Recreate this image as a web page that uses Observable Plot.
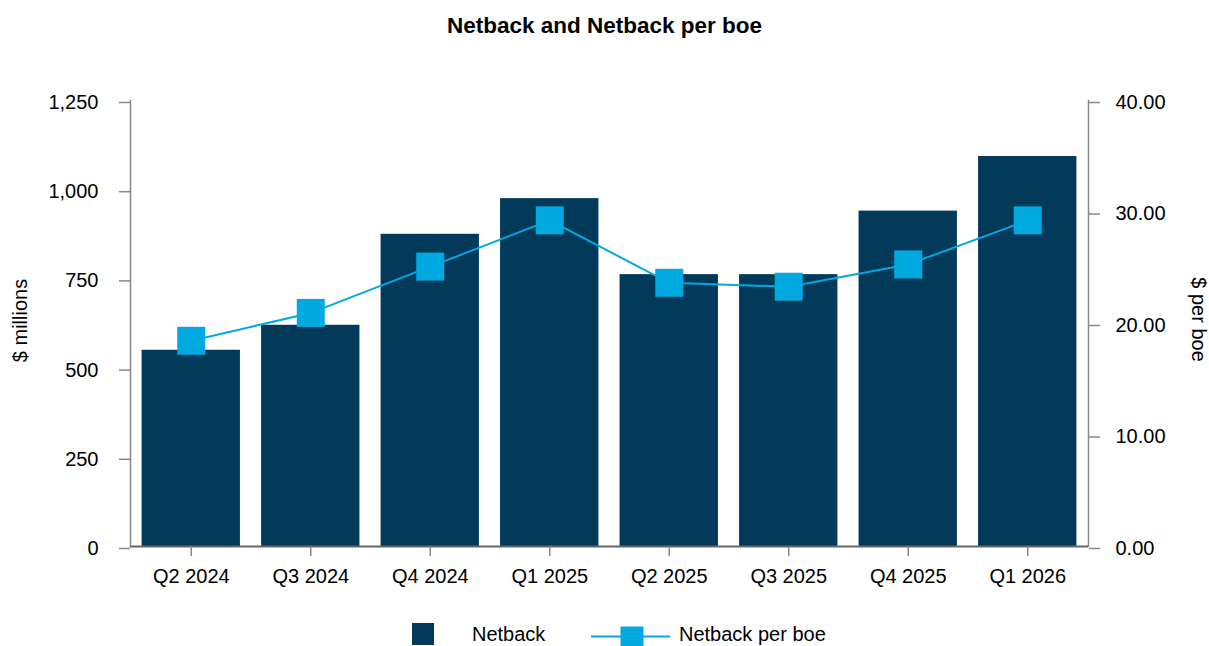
<!DOCTYPE html>
<html>
<head>
<meta charset="utf-8">
<script src="https://cdn.jsdelivr.net/npm/d3@7"></script>
<script src="https://cdn.jsdelivr.net/npm/@observablehq/plot@0.6"></script>
<style>
  html, body { margin: 0; padding: 0; background: #fff; }
  body { width: 1209px; height: 646px; overflow: hidden; font-family: "Liberation Sans", Arial, sans-serif; }
  #title { height: 52px; line-height: 52px; text-align: center; font-weight: bold; font-size: 22.5px; color: #000; }
  #chart svg { display: block; }
  #legend { position: relative; height: 29px; }
</style>
</head>
<body>
<div id="title">Netback and Netback per boe</div>
<div id="chart"></div>
<div id="legend"></div>
<script>
const quarters = ["Q2 2024", "Q3 2024", "Q4 2024", "Q1 2025", "Q2 2025", "Q3 2025", "Q4 2025", "Q1 2026"];
const netback = [550, 620, 875, 975, 762, 762, 940, 1093];
const netbackPerBoe = [18.45, 20.95, 25.1, 29.25, 23.65, 23.3, 25.3, 29.25];
const leftTicks = [0, 250, 500, 750, 1000, 1250];
const rightTicks = [0, 10, 20, 30, 40];
const leftMax = 1250, rightMax = 40;

const barColor = "#033a5a";
const lineColor = "#00a9e0";
const toLeft = v => v * leftMax / rightMax;

const data = quarters.map((q, i) => ({ q, netback: netback[i], boe: toLeft(netbackPerBoe[i]) }));

const chart = Plot.plot({
  width: 1209,
  height: 565,
  marginTop: 48,
  marginBottom: 71,
  marginLeft: 130,
  marginRight: 121,
  style: { fontFamily: "Liberation Sans, Arial, sans-serif", fontSize: "20px", color: "#000", background: "#fff" },
  x: { domain: quarters, paddingInner: 0.177, paddingOuter: 0.097, round: false, label: null },
  y: { domain: [0, leftMax], label: null },
  marks: [
    Plot.barY(data, { x: "q", y: "netback", fill: barColor }),
    Plot.line(data, { x: "q", y: "boe", stroke: lineColor, strokeWidth: 2 }),
    Plot.dot(data, { x: "q", y: "boe", symbol: "square", r: 15.8, fill: lineColor, stroke: "none" }),
    Plot.frame({ anchor: "left", stroke: "#888", strokeWidth: 1.5 }),
    Plot.frame({ anchor: "right", stroke: "#888", strokeWidth: 1.5 }),
    Plot.ruleY([0], { stroke: "#666", strokeWidth: 2 }),
    Plot.axisY({ anchor: "left", ticks: leftTicks, tickSize: 11, tickPadding: 21, tickFormat: d3.format(","), stroke: "#888", fill: "#000", strokeWidth: 1.5, dy: 2, label: null, fontSize: 20 }),
    Plot.axisY({ anchor: "right", ticks: rightTicks.map(toLeft), tickSize: 11, tickPadding: 16, tickFormat: d => (d * rightMax / leftMax).toFixed(2), stroke: "#888", fill: "#000", strokeWidth: 1.5, dy: 2, label: null, fontSize: 20 }),
    Plot.axisX({ anchor: "bottom", tickSize: 10, tickPadding: 12, stroke: "#888", fill: "#000", strokeWidth: 1.5, label: null, fontSize: 20 }),
    Plot.text(["$ millions"], { text: d => d, frameAnchor: "left", textAnchor: "middle", dx: -110, dy: -3, rotate: -90, fontSize: 20, fill: "#000" }),
    Plot.text(["$ per boe"], { text: d => d, frameAnchor: "right", textAnchor: "middle", dx: 110, dy: -4, rotate: 90, fontSize: 20, fill: "#000" })
  ]
});
document.getElementById("chart").appendChild(chart);

// Legend
const legendItems = [
  { label: "Netback", type: "bar" },
  { label: "Netback per boe", type: "line" }
];
const lg = d3.select("#legend").append("svg").attr("width", 1209).attr("height", 29)
  .style("display", "block").style("font-family", "Liberation Sans, Arial, sans-serif").style("font-size", "20px");
lg.append("rect").attr("x", 412).attr("y", 6).attr("width", 22).attr("height", 22).attr("fill", barColor);
lg.append("text").attr("x", 472).attr("y", 17).attr("dy", "0.35em").text(legendItems[0].label);
lg.append("line").attr("x1", 591).attr("x2", 670).attr("y1", 19.5).attr("y2", 19.5).attr("stroke", lineColor).attr("stroke-width", 2);
lg.append("rect").attr("x", 620.5).attr("y", 9.5).attr("width", 23).attr("height", 23).attr("fill", lineColor);
lg.append("text").attr("x", 679).attr("y", 17).attr("dy", "0.35em").text(legendItems[1].label);
</script>
</body>
</html>
